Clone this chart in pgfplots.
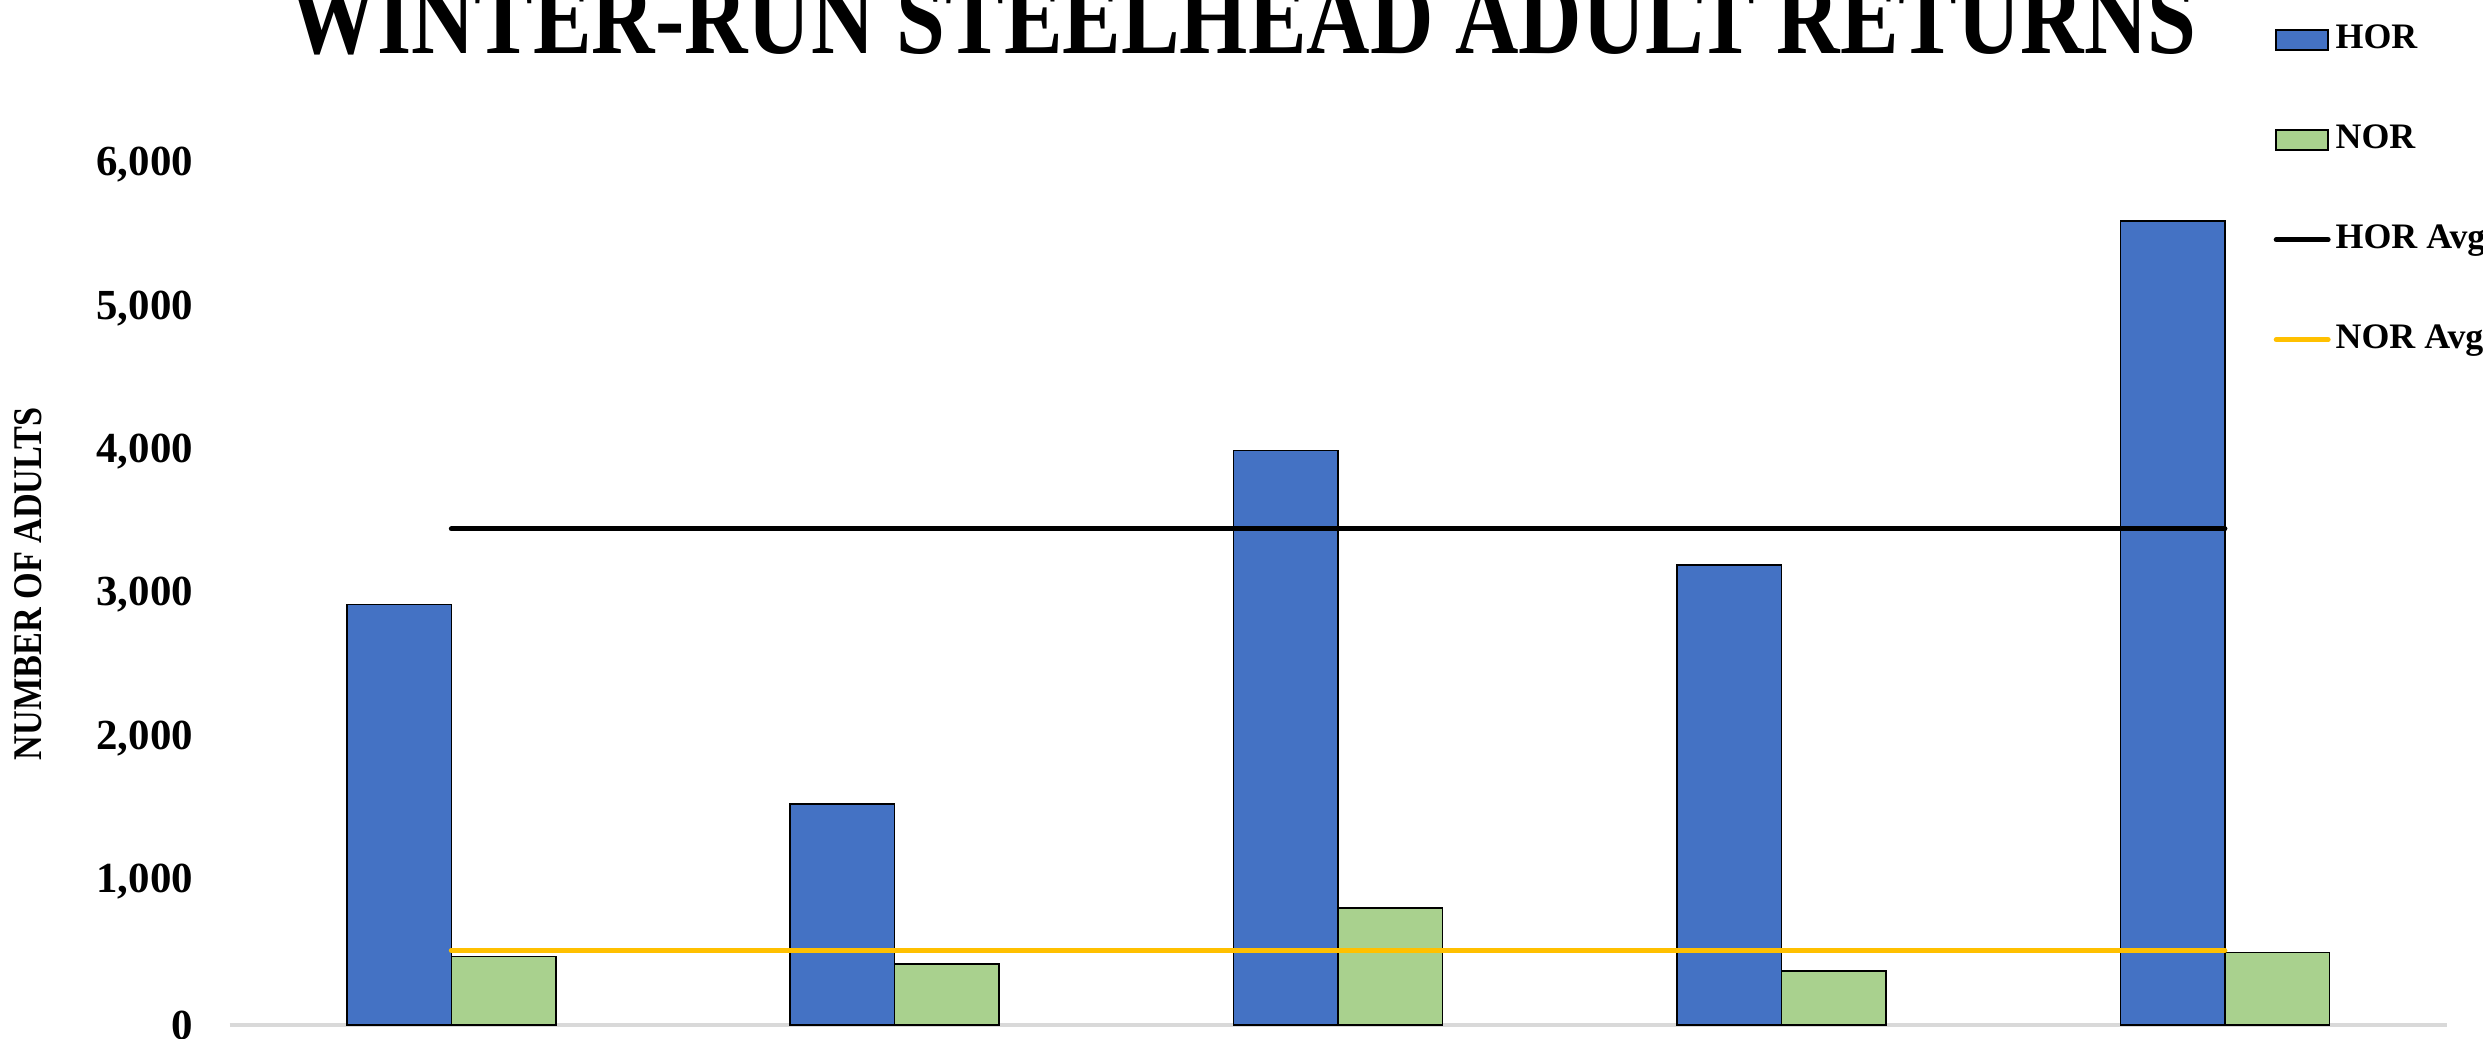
\documentclass[border=0pt]{standalone}
\usepackage{pgfplots}
\pgfplotsset{compat=1.18}
\usepackage{fontspec}
\setmainfont{Liberation Serif}
\newfontfamily\condfont[FakeStretch=0.833]{Liberation Serif}
\newfontfamily\labfont[FakeStretch=0.84]{Liberation Serif}
\definecolor{horblue}{HTML}{4472C4}
\definecolor{norgreen}{HTML}{A9D18E}
\definecolor{avgyellow}{HTML}{FFC000}
\definecolor{axgray}{HTML}{D9D9D9}
\begin{document}
\begin{tikzpicture}
\path[use as bounding box] (0mm,0mm) rectangle (248.3mm,103.8mm);
\clip (0mm,0mm) rectangle (248.3mm,103.8mm);
\begin{axis}[
  at={(22.96mm,1.3mm)}, anchor=south west,
  scale only axis, width=221.7mm, height=86mm,
  xmin=-0.5, xmax=4.5, ymin=0, ymax=6000,
  ytick={0,1000,2000,3000,4000,5000,6000}, xtick=\empty,
  axis line style={draw=none}, tick style={draw=none}, major tick length=0pt,
  /pgf/number format/.cd, 1000 sep={,}, assume math mode=true, /pgfplots/.cd,
  yticklabel style={font=\fontsize{12.2}{14}\selectfont\bfseries, inner sep=0pt, xshift=-3.6mm},
  clip=false,
  legend style={at={(0.9217,1.1657)}, anchor=north west, draw=none, fill=none, inner sep=0pt,
    font=\fontsize{10.2}{12}\selectfont\bfseries, row sep=6.7mm, column sep=0.5mm,
    nodes={inner sep=0pt, text height=2.5mm, text depth=0.8mm, anchor=west}},
  legend cell align=left,
]
\draw[axgray, line width=1.2pt] (rel axis cs:0,0) -- (rel axis cs:1,0);
\addplot[ybar, bar width=10.45mm, bar shift=-5.225mm, fill=horblue, draw=black, line width=0.45pt,
  legend image code/.code={\draw[fill=horblue, draw=black, line width=0.45pt] (0mm,-1mm) rectangle (5.2mm,1mm);}]
  coordinates {(0,2934) (1,1543) (2,4007) (3,3211) (4,5609)};
\addlegendentry{HOR}
\addplot[ybar, bar width=10.45mm, bar shift=5.225mm, fill=norgreen, draw=black, line width=0.45pt,
  legend image code/.code={\draw[fill=norgreen, draw=black, line width=0.45pt] (0mm,-1mm) rectangle (5.2mm,1mm);}]
  coordinates {(0,479) (1,425) (2,816) (3,377) (4,507)};
\addlegendentry{NOR}
\addplot[black, line width=1.4pt, line cap=round,
  legend image code/.code={\draw[black, line width=1.4pt, line cap=round] (0mm,0mm) -- (5.2mm,0mm);}]
  coordinates {(0,3461) (4,3461)};
\addlegendentry{HOR Avg}
\addplot[avgyellow, line width=1.4pt, line cap=round,
  legend image code/.code={\draw[avgyellow, line width=1.4pt, line cap=round] (0mm,0mm) -- (5.2mm,0mm);}]
  coordinates {(0,521) (4,521)};
\addlegendentry{NOR Avg}
\end{axis}
\node[anchor=base, font={\condfont\fontsize{30}{36}\selectfont\bfseries}] at (124.3mm,98.5mm) {WINTER-RUN STEELHEAD ADULT RETURNS};
\node[rotate=90, font={\labfont\fontsize{11.6}{14}\selectfont\bfseries}] at (2.85mm,45.4mm) {NUMBER OF ADULTS};
\end{tikzpicture}
\end{document}
